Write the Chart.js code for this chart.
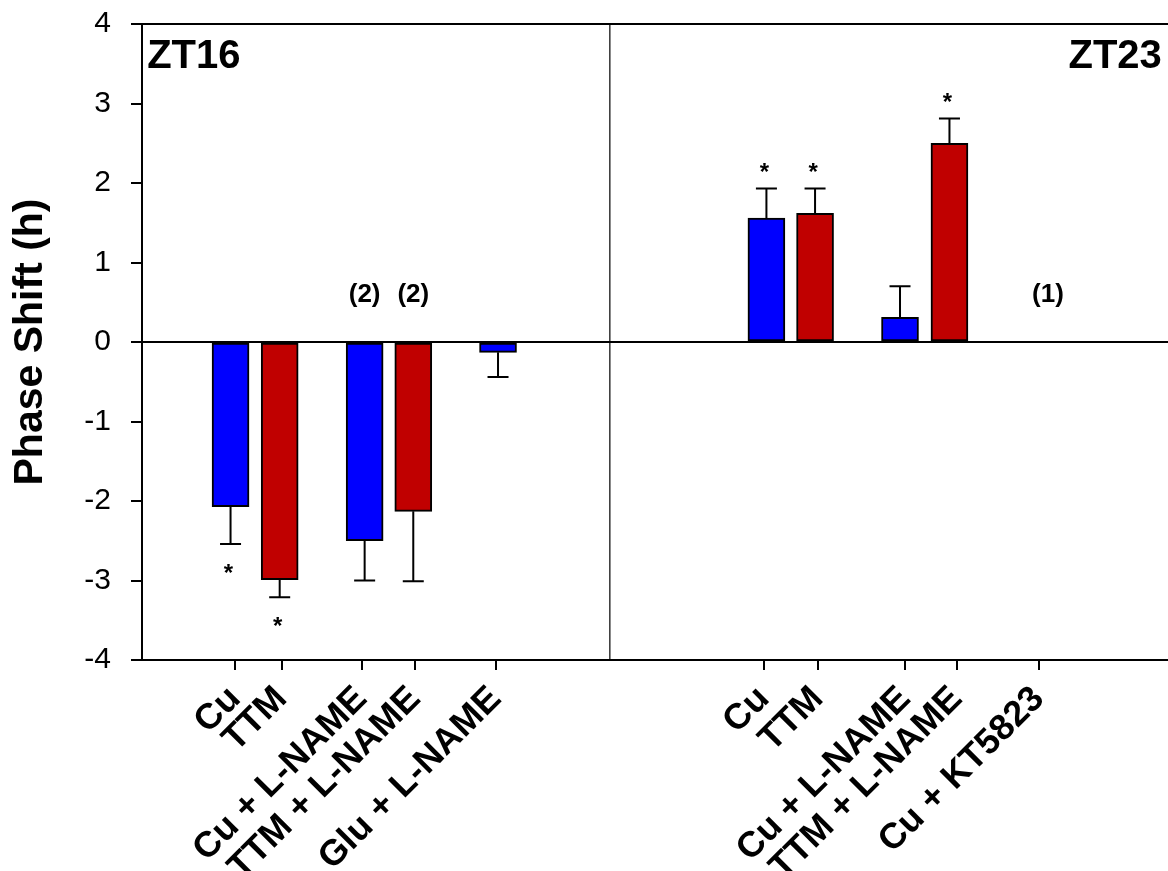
<!DOCTYPE html>
<html>
<head>
<meta charset="utf-8">
<script src="https://cdn.jsdelivr.net/npm/chart.js@4.4.1/dist/chart.umd.min.js"></script>
<style>
  html, body { margin: 0; padding: 0; background: #fff; }
  #wrap { width: 1168px; height: 871px; }
</style>
</head>
<body>
<div id="wrap"><canvas id="c" width="1168" height="871"></canvas></div>
<script>
// ---- data ----
const categories = ['Cu', 'TTM', 'Cu + L-NAME', 'TTM + L-NAME', 'Glu + L-NAME',
                    'Cu', 'TTM', 'Cu + L-NAME', 'TTM + L-NAME', 'Cu + KT5823'];
const treatment  = ['Cu', 'TTM', 'Cu', 'TTM', 'Glu', 'Cu', 'TTM', 'Cu', 'TTM', 'Cu'];
const phaseShift = [-2.07, -2.99, -2.50, -2.13, -0.13, 1.56, 1.62, 0.31, 2.50, null];
const sem        = [0.47, 0.22, 0.50, 0.88, 0.31, 0.37, 0.31, 0.39, 0.31, null];
const significant = [true, true, false, false, false, true, true, false, true, false];
const nNotes     = ['', '', '(2)', '(2)', '', '', '', '', '', '(1)'];
// positions along the (0..100) horizontal axis
const barSlot    = [8.63, 13.42, 21.7, 26.44, 34.7, 60.86, 65.6, 73.88, 78.7, 88.3];
const labelSlot  = [9.06, 13.6, 21.4, 26.6, 34.47, 60.6, 65.86, 74.37, 79.4, 87.4];
const dividerSlot = 45.6;
const panelNames = ['ZT16', 'ZT23'];
const yTickValues = [-4, -3, -2, -1, 0, 1, 2, 3, 4];

// ---- styles ----
const FONT = "'Liberation Sans', Arial, sans-serif";
const treatmentColor = { Cu: '#0000ff', TTM: '#c00000', Glu: '#0000ff' };

const overlay = {
  id: 'overlay',
  beforeDatasetsDraw(chart) {
    const { ctx, chartArea } = chart;
    const xs = chart.scales.x;
    const px = xs.getPixelForValue(dividerSlot);
    ctx.save();
    ctx.strokeStyle = '#000';
    ctx.lineWidth = 1.2;
    ctx.beginPath();
    ctx.moveTo(px, chartArea.top);
    ctx.lineTo(px, chartArea.bottom);
    ctx.stroke();
    ctx.restore();
  },
  afterDatasetsDraw(chart) {
    const { ctx } = chart;
    const xs = chart.scales.x, ys = chart.scales.y;
    const meta = chart.getDatasetMeta(0);
    ctx.save();
    ctx.strokeStyle = '#000';
    ctx.lineWidth = 2;
    ctx.fillStyle = '#000';
    meta.data.forEach((bar, i) => {
      const v = phaseShift[i];
      if (v === null || v === undefined) return;
      const dir = v < 0 ? -1 : 1;
      const yEnd = ys.getPixelForValue(v + dir * sem[i]);
      ctx.beginPath();
      ctx.moveTo(bar.x, bar.y);
      ctx.lineTo(bar.x, yEnd);
      ctx.moveTo(bar.x - 10.5, yEnd);
      ctx.lineTo(bar.x + 10.5, yEnd);
      ctx.stroke();
      if (significant[i]) {
        const fs = 24;
        ctx.font = 'bold ' + fs + 'px ' + FONT;
        ctx.textAlign = 'center';
        ctx.textBaseline = 'alphabetic';
        const cy = yEnd - dir * 23;
        ctx.fillText('*', bar.x - 2, cy + 0.585 * fs);
      }
    });
    // n notes
    ctx.font = 'bold 26px ' + FONT;
    ctx.textAlign = 'center';
    ctx.textBaseline = 'alphabetic';
    nNotes.forEach((t, i) => {
      if (!t) return;
      ctx.fillText(t, xs.getPixelForValue(barSlot[i]), ys.getPixelForValue(0.5));
    });
    // panel names
    ctx.font = 'bold 40px ' + FONT;
    ctx.textAlign = 'left';
    ctx.fillText(panelNames[0], xs.getPixelForValue(0.5), ys.getPixelForValue(3.45));
    ctx.textAlign = 'right';
    ctx.fillText(panelNames[1], xs.getPixelForValue(99.4), ys.getPixelForValue(3.45));
    ctx.restore();
  }
};

new Chart(document.getElementById('c'), {
  type: 'bar',
  data: {
    datasets: [{
      data: categories.map((c, i) => ({ x: barSlot[i], y: phaseShift[i] })),
      backgroundColor: treatment.map(t => treatmentColor[t]),
      borderColor: '#000',
      borderWidth: 2,
      borderSkipped: false,
      barThickness: 37,
      grouped: false
    }]
  },
  options: {
    responsive: false,
    animation: false,
    events: [],
    layout: { padding: { top: 24, right: 0, left: 0, bottom: 0 } },
    plugins: { legend: { display: false }, tooltip: { enabled: false } },
    scales: {
      x: { type: 'linear', min: 0, max: 100, display: false, offset: false, grid: { offset: false } },
      xLab: {
        type: 'linear', min: 0, max: 100, position: 'bottom', offset: false,
        afterBuildTicks: s => { s.ticks = labelSlot.map(v => ({ value: v })); },
        afterFit: s => { s.height = 211; s.paddingLeft = 0; s.paddingRight = 0; },
        border: { display: true, color: '#000', width: 2 },
        grid: { offset: false, drawOnChartArea: false, tickLength: 10, tickColor: '#000', lineWidth: 2 },
        ticks: {
          autoSkip: false, maxRotation: 45, minRotation: 45, padding: 8,
          color: '#000',
          font: { family: FONT, size: 36, weight: 'bold' },
          callback: (v, i) => categories[i]
        }
      },
      y: {
        min: -4, max: 4,
        afterBuildTicks: s => { s.ticks = yTickValues.map(v => ({ value: v })); },
        afterFit: s => { s.width = 142; s.paddingTop = 0; s.paddingBottom = 0; },
        border: { display: true, color: '#000', width: 2 },
        grid: {
          drawOnChartArea: true,
          tickLength: 11,
          tickColor: '#000',
          color: c => (c.tick && (c.tick.value === 0 || c.tick.value === 4)) ? '#000' : 'rgba(0,0,0,0)',
          lineWidth: 2
        },
        ticks: {
          padding: 20, color: '#000',
          font: { family: FONT, size: 30 },
          callback: v => String(v)
        },
        title: {
          display: true, text: 'Phase Shift (h)', color: '#000',
          font: { family: FONT, size: 41, weight: 'bold', lineHeight: 1.2 },
          padding: { top: 6, bottom: 0 }
        }
      }
    }
  },
  plugins: [overlay]
});
</script>
</body>
</html>
